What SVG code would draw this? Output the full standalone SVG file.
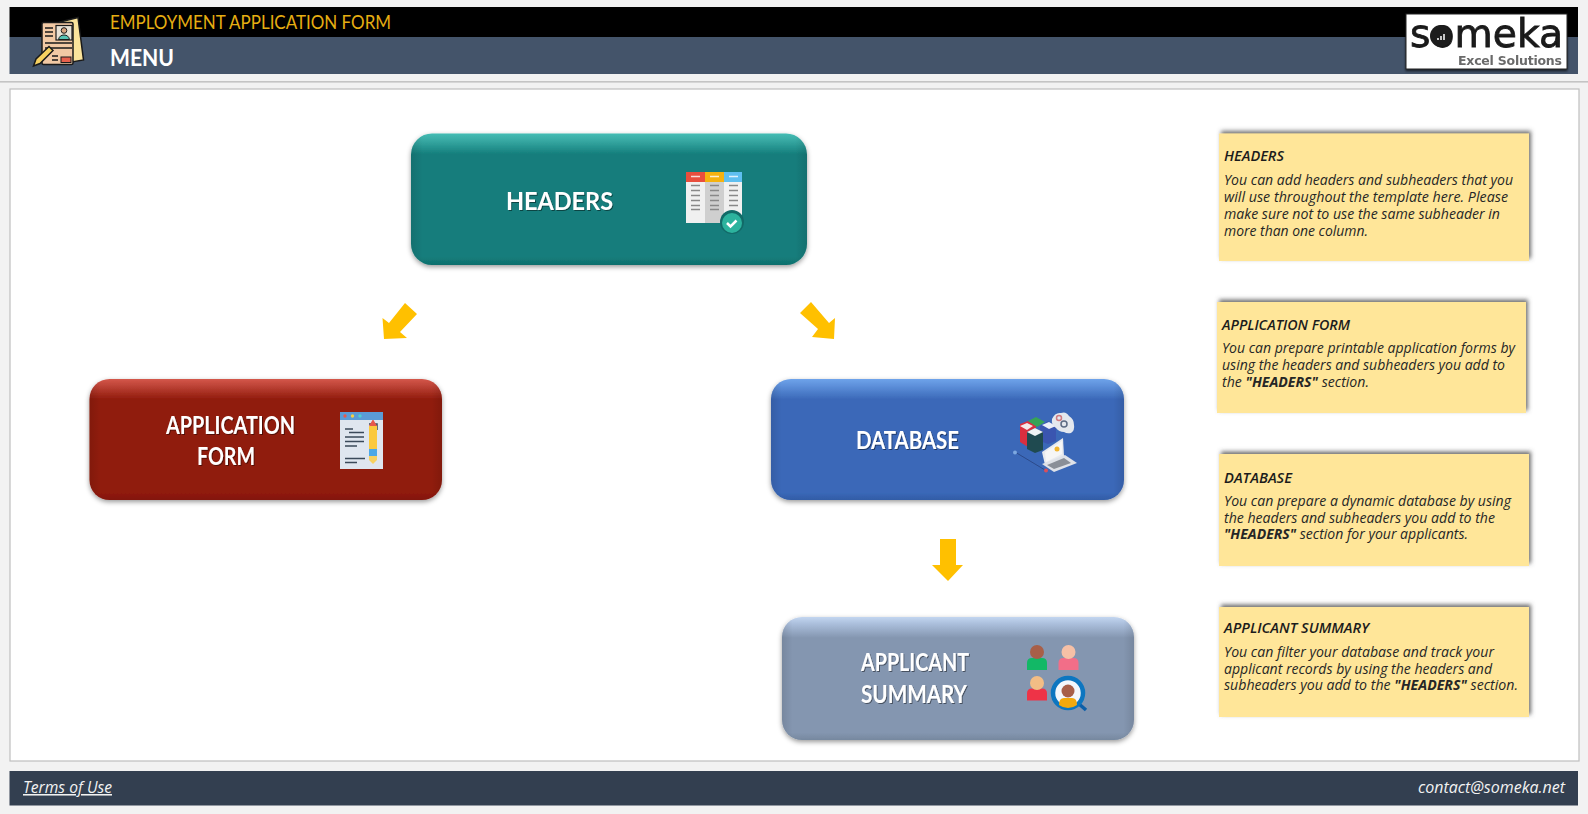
<svg xmlns="http://www.w3.org/2000/svg" width="1588" height="814" viewBox="0 0 1588 814">
<style>
.lbl{font-family:Lato,"Liberation Sans",sans-serif;font-weight:700;font-size:24px;fill:#fff;filter:url(#ts)}
.nt{font-family:"Open Sans","Liberation Sans",sans-serif;font-style:italic;font-size:13.6px;fill:#262626}
.nh{font-family:"Open Sans","Liberation Sans",sans-serif;font-style:italic;font-weight:600;font-size:13.6px;fill:#1c1c1c}
.b{font-weight:700}
.note{fill:#ffe699;filter:url(#ns)}
.ft{font-family:"Open Sans","Liberation Sans",sans-serif;font-style:italic;font-size:15.500px;fill:#f2f2f2}
.ar{fill:#ffc000}
.gl{stroke:#888;stroke-width:1.6}
.dk{stroke:#3b4a5a;stroke-width:1.5}
.side{fill:url(#eh)}
.out{stroke:#1a1a1a;stroke-width:1.5}
</style>
<defs>
<filter id="ds" x="-5%" y="-10%" width="110%" height="125%"><feDropShadow dx="0" dy="2" stdDeviation="2.5" flood-color="#000" flood-opacity=".4"/></filter>
<filter id="ns" x="-5%" y="-8%" width="110%" height="116%"><feDropShadow dx="2" dy="-2.500" stdDeviation="1.900" flood-color="#555" flood-opacity=".85"/></filter>
<filter id="ts" x="-10%" y="-20%" width="120%" height="140%"><feDropShadow dx="1" dy="1" stdDeviation=".6" flood-color="#000" flood-opacity=".45"/></filter>
<filter id="ls" x="-5%" y="-5%" width="110%" height="115%"><feDropShadow dx="0" dy="1.500" stdDeviation="1" flood-color="#000" flood-opacity=".7"/></filter>
<linearGradient id="g-teal" x1="0" y1="0" x2="0" y2="1"><stop offset="0" stop-color="#44bcb4"/><stop offset=".05" stop-color="#38aaa4"/><stop offset=".16" stop-color="#147d7b"/><stop offset=".94" stop-color="#147d7b"/><stop offset="1" stop-color="#0f6f6d"/></linearGradient>
<linearGradient id="g-red" x1="0" y1="0" x2="0" y2="1"><stop offset="0" stop-color="#d4574a"/><stop offset=".05" stop-color="#c0463a"/><stop offset=".17" stop-color="#901a0c"/><stop offset=".94" stop-color="#901a0c"/><stop offset="1" stop-color="#82160a"/></linearGradient>
<linearGradient id="g-blue" x1="0" y1="0" x2="0" y2="1"><stop offset="0" stop-color="#6ea3ea"/><stop offset=".05" stop-color="#5f92dc"/><stop offset=".17" stop-color="#3a68b8"/><stop offset=".94" stop-color="#3a68b8"/><stop offset="1" stop-color="#325ca6"/></linearGradient>
<linearGradient id="g-slate" x1="0" y1="0" x2="0" y2="1"><stop offset="0" stop-color="#c3d6f0"/><stop offset=".05" stop-color="#adc1de"/><stop offset=".17" stop-color="#8496b0"/><stop offset=".94" stop-color="#8496b0"/><stop offset="1" stop-color="#76889f"/></linearGradient>
<linearGradient id="eh" x1="0" y1="0" x2="1" y2="0"><stop offset="0" stop-color="#000" stop-opacity=".1"/><stop offset=".03" stop-color="#000" stop-opacity="0"/><stop offset=".97" stop-color="#000" stop-opacity="0"/><stop offset="1" stop-color="#000" stop-opacity=".1"/></linearGradient>
</defs>

<rect width="1588" height="814" fill="#f2f2f2"/>

<g id="header-bar">
<rect x="9.500" y="7" width="1568.500" height="30" fill="#000"/>
<rect x="9.500" y="37" width="1568.500" height="37" fill="#44546a"/>
<rect x="0" y="81" width="1588" height="1.600" fill="#c4c4c4"/>
<text x="110" y="29" font-family="Lato,'Liberation Sans',sans-serif" font-size="19" fill="#e6ae12" textLength="281" lengthAdjust="spacingAndGlyphs">EMPLOYMENT APPLICATION FORM</text>
<text x="110" y="65.500" font-family="Lato,'Liberation Sans',sans-serif" font-weight="700" font-size="22" fill="#fff" textLength="64" lengthAdjust="spacingAndGlyphs">MENU</text>
</g>

<g id="header-icon">
<path d="M60 22 L78 17.500 L83.500 60 L66 63Z" fill="#fbe49c" stroke="#1a1a1a" stroke-width="1.500"/>
<rect x="42" y="22.500" width="31" height="42" rx="1.500" fill="#f2c9a4" stroke="#1a1a1a" stroke-width="1.500"/>
<rect x="56" y="25.500" width="16" height="14.500" fill="#e8e2d6" stroke="#1a1a1a" stroke-width="1.200"/>
<circle cx="64" cy="30.500" r="2.800" fill="#d8a37e" stroke="#1a1a1a"/>
<path d="M58.500 39.500 q1-4.500 5.500-4.500 q4.500 0 5.500 4.500Z" fill="#56c2b4" stroke="#1a1a1a"/>
<path d="M45 28h8M45 32h8M45 36h8M45 43h27M45 48h27M52 56h6M52 60h6" class="out" fill="none"/>
<rect x="61" y="57" width="10" height="5.500" fill="#e8604c" stroke="#1a1a1a"/>
<path d="M33.500 66 L36 59 L49 46.500 L53 50.500 L40 63.500Z" fill="#f7d160" stroke="#1a1a1a" stroke-width="1.500"/>
</g>

<g id="logo" filter="url(#ls)">
<rect x="1406" y="14" width="161" height="55" fill="#fff" stroke="#222" stroke-width="1"/>
<text x="1410" y="47" font-family="'DejaVu Sans',sans-serif" font-weight="400" font-size="39" fill="#1a1a1a" stroke="#1a1a1a" stroke-width=".8" textLength="153" lengthAdjust="spacingAndGlyphs">someka</text>
<circle cx="1441" cy="36" r="11" fill="#1a1a1a"/>
<path d="M1438 40v-2M1441 40v-4M1444 40v-6" stroke="#fff" stroke-width="1.500"/>
<text x="1458" y="65" font-family="'DejaVu Sans',sans-serif" font-weight="700" font-size="12.500" fill="#6a6a6a" textLength="104" lengthAdjust="spacing">Excel Solutions</text>
</g>

<rect id="panel" x="10" y="89" width="1569" height="672" fill="#fff" stroke="#bfbfbf" stroke-width="1.200"/>

<g id="connectors">
<polygon class="ar" points="384,339 382.500,318 389,323 405,303 417,314 400,332 407,338"/>
<polygon class="ar" points="834,339 835,318 829,323 811,302 800,313 818,329 812,337"/>
<polygon class="ar" points="940,539 956,539 956,565 963,565 948,581 932,565 940,565"/>
</g>

<g id="node-headers">
<rect x="411" y="133.500" width="396" height="131.500" rx="21" fill="url(#g-teal)" filter="url(#ds)"/>
<rect x="411" y="133.500" width="396" height="131.500" rx="21" class="side"/>
<text class="lbl" x="506" y="209.500" textLength="107" lengthAdjust="spacingAndGlyphs">HEADERS</text>
<g id="icon-headers">
<rect x="686" y="172" width="19" height="51" fill="#f0f0f0"/><rect x="705" y="172" width="19" height="51" fill="#cfcfcf"/><rect x="724" y="172" width="18" height="51" fill="#f0f0f0"/>
<rect x="686" y="172" width="19" height="10" fill="#e94e3d"/><rect x="705" y="172" width="19" height="10" fill="#f5b20f"/><rect x="724" y="172" width="18" height="10" fill="#5fbff0"/>
<path d="M691 176.500h9M710 176.500h9M729 176.500h9" stroke="#fff" stroke-width="1.500" opacity=".8"/>
<path d="M691 185.500h9M691 190.500h9M691 195.500h9M691 200.500h9M691 205.500h9M691 209.500h9M710 185.500h9M710 190.500h9M710 195.500h9M710 200.500h9M710 205.500h9M710 209.500h9M729 185.500h9M729 190.500h9M729 195.500h9M729 200.500h9M729 205.500h9" class="gl"/>
<circle cx="732" cy="222" r="12" fill="#126a68"/>
<circle cx="732" cy="223" r="10" fill="#2cb39e"/>
<path d="M727 223l3.500 3.500 6-6" fill="none" stroke="#fff" stroke-width="2.500"/>
</g>
</g>

<g id="node-application">
<rect x="89.500" y="379" width="352.500" height="121" rx="20" fill="url(#g-red)" filter="url(#ds)"/>
<rect x="89.500" y="379" width="352.500" height="121" rx="20" class="side"/>
<text class="lbl" x="166" y="433.500" textLength="129" lengthAdjust="spacingAndGlyphs">APPLICATION</text>
<text class="lbl" x="197" y="464.500" textLength="58" lengthAdjust="spacingAndGlyphs">FORM</text>
<g id="icon-application">
<rect x="340" y="412" width="43" height="57" fill="#dfe6ef"/>
<rect x="340" y="412" width="43" height="8" fill="#5b9bd5"/>
<circle cx="345" cy="416" r="1.700" fill="#e8584c"/><circle cx="352.500" cy="416" r="1.700" fill="#f6cf45"/><circle cx="360" cy="416" r="1.700" fill="#4fd0d0"/>
<path d="M345 429h8M349 432.500h15M345 437h19M345 441.500h19M345 446h12M345 458.500h20M345 462.500h12" class="dk" fill="none"/>
<path d="M369 424h8v6" fill="none" stroke="#3b4a5a" stroke-width="1.500"/>
<rect x="369" y="426" width="8" height="26" fill="#fbc93d"/>
<rect x="369" y="449" width="8" height="7" fill="#4aa8e8"/>
<path d="M369 426l3.500-6h1l3.500 6Z" fill="#e8584c"/>
<path d="M369 456h8v4l-4 4-4-4Z" fill="#f7d160"/>
</g>
</g>

<g id="node-database">
<rect x="771" y="379" width="353" height="121" rx="20" fill="url(#g-blue)" filter="url(#ds)"/>
<rect x="771" y="379" width="353" height="121" rx="20" class="side"/>
<text class="lbl" x="856" y="448.500" textLength="103" lengthAdjust="spacingAndGlyphs">DATABASE</text>
<g id="icon-database">
<path d="M1020 424l8-3 8 4v14l-8 8-8-5Z" fill="#d92f3f"/>
<path d="M1040 426l8-5 8 5v15l-8 3-8-3Z" fill="#3a55b0"/>
<path d="M1028 421l8-4 9 5-8 5Z" fill="#37a357"/>
<path d="M1027 432l8-4 8 4v18l-8 3-8-4Z" fill="#1f4a50"/>
<path d="M1027 432l8-4 8 4-8 4Z" fill="#eef3f5"/>
<path d="M1020 426l7-3 6 3-6 4Z" fill="#f3e9e9"/><path d="M1042 425l7-3 7 4-7 3Z" fill="#eaeef8"/>
<path d="M1052 419q3-7 9-6 5-2 8 3 5 3 5 9 1 5-3 8-4 1-7-1-5 0-8-4-5-3-4-9Z" fill="#e4e8ee"/>
<circle cx="1059" cy="418" r="2.500" fill="none" stroke="#d07a80" stroke-width="1.500"/><circle cx="1064" cy="424" r="3" fill="none" stroke="#5c6b84" stroke-width="1.500"/>
<path d="M1042 452l21-14 1 18-19 9Z" fill="#e8eaee"/>
<path d="M1045 452l17-11v13l-16 8Z" fill="#f6f6f6"/>
<circle cx="1057" cy="449" r="2.500" fill="#f2b632"/>
<path d="M1042 464l23-9 12 8-23 9Z" fill="#dfe2e8"/>
<path d="M1047 465l17-7 7 5-17 6Z" fill="#8a8f98"/>
<path d="M1015 452l30 18" stroke="#2c4a8a" stroke-width="1" fill="none"/>
<circle cx="1015" cy="452.500" r="2" fill="#7da8e0"/><circle cx="1046" cy="470.500" r="2" fill="#d94f5c"/>
</g>
</g>

<g id="node-summary">
<rect x="782" y="617" width="352" height="123" rx="20" fill="url(#g-slate)" filter="url(#ds)"/>
<rect x="782" y="617" width="352" height="123" rx="20" class="side"/>
<text class="lbl" x="861" y="671" textLength="108" lengthAdjust="spacingAndGlyphs">APPLICANT</text>
<text class="lbl" x="861" y="702.500" textLength="106" lengthAdjust="spacingAndGlyphs">SUMMARY</text>
<g id="icon-summary">
<path d="M1027 670v-7q0-5 5-5h10q5 0 5 5v7Z" fill="#12b866"/>
<circle cx="1037" cy="652" r="7" fill="#a85f48"/>
<path d="M1058.500 670v-7q0-5 5-5h10q5 0 5 5v7Z" fill="#f26e88"/>
<circle cx="1068.500" cy="652" r="7" fill="#f6c0a6"/>
<path d="M1027 700.500v-7q0-5 5-5h10q5 0 5 5v7Z" fill="#ee3347"/>
<circle cx="1037" cy="683" r="7" fill="#f2bd85"/>
<path d="M1079 704l7 6" stroke="#0d5fa8" stroke-width="3.500"/>
<circle cx="1068" cy="693" r="15" fill="#f4f7fb" stroke="#0d76c0" stroke-width="4.500"/>
<path d="M1059 705q0-7 5-7h8q5 0 5 7q-4 3-9 3t-9-3Z" fill="#f2a90d"/>
<circle cx="1068" cy="691" r="6.500" fill="#a85f48"/>
</g>
</g>

<g id="note-headers">
<rect class="note" x="1219" y="133.500" width="310" height="127.500"/>
<text class="nh" x="1224" y="161" textLength="60" lengthAdjust="spacingAndGlyphs">HEADERS</text>
<text class="nt" x="1224" y="185" textLength="289" lengthAdjust="spacingAndGlyphs">You can add headers and subheaders that you</text>
<text class="nt" x="1224" y="202" textLength="284" lengthAdjust="spacingAndGlyphs">will use throughout the template here. Please</text>
<text class="nt" x="1224" y="219" textLength="276" lengthAdjust="spacingAndGlyphs">make sure not to use the same subheader in</text>
<text class="nt" x="1224" y="236" textLength="144" lengthAdjust="spacingAndGlyphs">more than one column.</text>
</g>
<g id="note-application">
<rect class="note" x="1217" y="302" width="309" height="111"/>
<text class="nh" x="1222" y="330" textLength="128" lengthAdjust="spacingAndGlyphs">APPLICATION FORM</text>
<text class="nt" x="1222" y="353" textLength="293" lengthAdjust="spacingAndGlyphs">You can prepare printable application forms by</text>
<text class="nt" x="1222" y="370" textLength="283" lengthAdjust="spacingAndGlyphs">using the headers and subheaders you add to</text>
<text class="nt" x="1222" y="387" textLength="147" lengthAdjust="spacingAndGlyphs">the <tspan class="b">"HEADERS"</tspan> section.</text>
</g>
<g id="note-database">
<rect class="note" x="1219" y="454" width="310" height="112"/>
<text class="nh" x="1224" y="483" textLength="68" lengthAdjust="spacingAndGlyphs">DATABASE</text>
<text class="nt" x="1224" y="506" textLength="287" lengthAdjust="spacingAndGlyphs">You can prepare a dynamic database by using</text>
<text class="nt" x="1224" y="523" textLength="271" lengthAdjust="spacingAndGlyphs">the headers and subheaders you add to the</text>
<text class="nt" x="1224" y="539" textLength="244" lengthAdjust="spacingAndGlyphs"><tspan class="b">"HEADERS"</tspan> section for your applicants.</text>
</g>
<g id="note-summary">
<rect class="note" x="1219" y="607" width="310" height="110"/>
<text class="nh" x="1224" y="633" textLength="145" lengthAdjust="spacingAndGlyphs">APPLICANT SUMMARY</text>
<text class="nt" x="1224" y="657" textLength="270" lengthAdjust="spacingAndGlyphs">You can filter your database and track your</text>
<text class="nt" x="1224" y="674" textLength="268" lengthAdjust="spacingAndGlyphs">applicant records by using the headers and</text>
<text class="nt" x="1224" y="690" textLength="294" lengthAdjust="spacingAndGlyphs">subheaders you add to the <tspan class="b">"HEADERS"</tspan> section.</text>
</g>

<g id="footer">
<rect x="9.500" y="771" width="1568.500" height="34.500" fill="#333f50"/>
<text class="ft" x="23" y="793" text-decoration="underline" textLength="89" lengthAdjust="spacingAndGlyphs">Terms of Use</text>
<text class="ft" x="1418" y="793" textLength="147" lengthAdjust="spacingAndGlyphs">contact@someka.net</text>
</g>
</svg>
